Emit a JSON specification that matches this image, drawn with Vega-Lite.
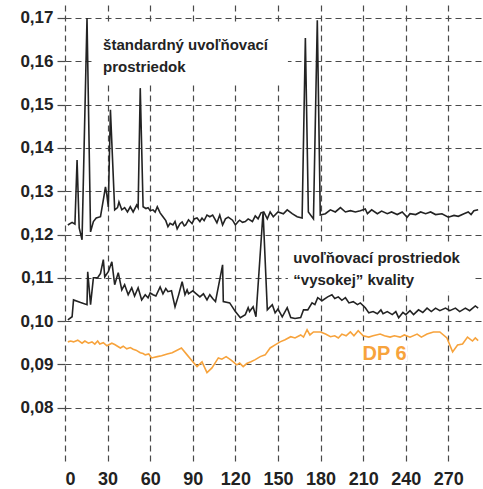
{
  "$schema": "https://vega.github.io/schema/vega-lite/v6.json",
  "autosize": {"type": "none"},
  "padding": {"left": 65, "top": 5, "right": 2, "bottom": 25},
  "width": 416,
  "height": 459,
  "background": "white",
  "config": {"view": {"stroke": null}},
  "datasets": {
    "series": [
      {"s":"std","x":2,"y":0.1222},{"s":"std","x":5,"y":0.1228},{"s":"std","x":7,"y":0.1224},{"s":"std","x":8.5,"y":0.1372},{"s":"std","x":10,"y":0.1215},{"s":"std","x":12,"y":0.1188},{"s":"std","x":15.5,"y":0.17},{"s":"std","x":18,"y":0.1206},{"s":"std","x":20,"y":0.123},{"s":"std","x":22,"y":0.1238},{"s":"std","x":25,"y":0.1241},{"s":"std","x":27.5,"y":0.129},{"s":"std","x":28.5,"y":0.131},{"s":"std","x":29.5,"y":0.1291},{"s":"std","x":30.5,"y":0.1264},{"s":"std","x":32,"y":0.1488},{"s":"std","x":35,"y":0.1257},{"s":"std","x":37,"y":0.1262},{"s":"std","x":38,"y":0.1275},{"s":"std","x":40,"y":0.1257},{"s":"std","x":42,"y":0.1262},{"s":"std","x":44,"y":0.1252},{"s":"std","x":46,"y":0.1264},{"s":"std","x":48,"y":0.1252},{"s":"std","x":50.5,"y":0.1268},{"s":"std","x":51.5,"y":0.1262},{"s":"std","x":53,"y":0.1538},{"s":"std","x":55,"y":0.1264},{"s":"std","x":57,"y":0.126},{"s":"std","x":58.5,"y":0.1262},{"s":"std","x":60,"y":0.1255},{"s":"std","x":62,"y":0.1257},{"s":"std","x":63.5,"y":0.1252},{"s":"std","x":65,"y":0.1264},{"s":"std","x":67,"y":0.125},{"s":"std","x":69,"y":0.1241},{"s":"std","x":71,"y":0.1232},{"s":"std","x":72.5,"y":0.1218},{"s":"std","x":74,"y":0.1226},{"s":"std","x":76,"y":0.1222},{"s":"std","x":77.5,"y":0.123},{"s":"std","x":79,"y":0.1213},{"s":"std","x":81,"y":0.1225},{"s":"std","x":82.5,"y":0.1229},{"s":"std","x":84,"y":0.122},{"s":"std","x":85,"y":0.1222},{"s":"std","x":87,"y":0.1234},{"s":"std","x":89.5,"y":0.1225},{"s":"std","x":91,"y":0.1236},{"s":"std","x":93,"y":0.1238},{"s":"std","x":95,"y":0.123},{"s":"std","x":96.5,"y":0.1238},{"s":"std","x":98,"y":0.1232},{"s":"std","x":100,"y":0.1245},{"s":"std","x":102,"y":0.1241},{"s":"std","x":104,"y":0.1245},{"s":"std","x":105.5,"y":0.1236},{"s":"std","x":107,"y":0.1227},{"s":"std","x":109,"y":0.1245},{"s":"std","x":111,"y":0.1222},{"s":"std","x":113,"y":0.1236},{"s":"std","x":115,"y":0.124},{"s":"std","x":118,"y":0.1233},{"s":"std","x":120,"y":0.1222},{"s":"std","x":122,"y":0.123},{"s":"std","x":123,"y":0.1233},{"s":"std","x":125,"y":0.1228},{"s":"std","x":127,"y":0.123},{"s":"std","x":129,"y":0.1236},{"s":"std","x":132,"y":0.123},{"s":"std","x":134,"y":0.1243},{"s":"std","x":136,"y":0.1236},{"s":"std","x":138,"y":0.125},{"s":"std","x":140,"y":0.1252},{"s":"std","x":142.5,"y":0.1236},{"s":"std","x":144.5,"y":0.1252},{"s":"std","x":146.7,"y":0.1241},{"s":"std","x":150,"y":0.1252},{"s":"std","x":153.8,"y":0.1248},{"s":"std","x":156.5,"y":0.1257},{"s":"std","x":160,"y":0.1248},{"s":"std","x":163.5,"y":0.1241},{"s":"std","x":167,"y":0.1238},{"s":"std","x":169.3,"y":0.1654},{"s":"std","x":171.4,"y":0.1252},{"s":"std","x":175,"y":0.1236},{"s":"std","x":177.7,"y":0.1695},{"s":"std","x":179.8,"y":0.1245},{"s":"std","x":183.4,"y":0.1248},{"s":"std","x":186.9,"y":0.1257},{"s":"std","x":190.4,"y":0.1252},{"s":"std","x":194,"y":0.1262},{"s":"std","x":197.5,"y":0.1252},{"s":"std","x":201,"y":0.1255},{"s":"std","x":204.5,"y":0.1252},{"s":"std","x":208,"y":0.1255},{"s":"std","x":211.5,"y":0.1259},{"s":"std","x":213,"y":0.1248},{"s":"std","x":216,"y":0.1257},{"s":"std","x":220,"y":0.1248},{"s":"std","x":223,"y":0.1254},{"s":"std","x":227,"y":0.1248},{"s":"std","x":230,"y":0.1252},{"s":"std","x":234,"y":0.1246},{"s":"std","x":237.5,"y":0.1252},{"s":"std","x":241,"y":0.124},{"s":"std","x":243,"y":0.1248},{"s":"std","x":247,"y":0.1246},{"s":"std","x":250.5,"y":0.1252},{"s":"std","x":254,"y":0.1248},{"s":"std","x":257.5,"y":0.1252},{"s":"std","x":261,"y":0.1246},{"s":"std","x":265.5,"y":0.1248},{"s":"std","x":270,"y":0.124},{"s":"std","x":274,"y":0.1244},{"s":"std","x":277,"y":0.1242},{"s":"std","x":281,"y":0.1248},{"s":"std","x":284,"y":0.1252},{"s":"std","x":286,"y":0.1246},{"s":"std","x":288,"y":0.1255},{"s":"std","x":291,"y":0.1257},
      {"s":"hq","x":2,"y":0.1003},{"s":"hq","x":5,"y":0.101},{"s":"hq","x":6,"y":0.1049},{"s":"hq","x":11,"y":0.1043},{"s":"hq","x":15.5,"y":0.1038},{"s":"hq","x":16,"y":0.1114},{"s":"hq","x":18,"y":0.1038},{"s":"hq","x":20,"y":0.11},{"s":"hq","x":23,"y":0.11},{"s":"hq","x":25,"y":0.111},{"s":"hq","x":27,"y":0.1142},{"s":"hq","x":28,"y":0.1102},{"s":"hq","x":30.5,"y":0.1114},{"s":"hq","x":33,"y":0.1137},{"s":"hq","x":35,"y":0.1084},{"s":"hq","x":37.5,"y":0.1112},{"s":"hq","x":40,"y":0.1072},{"s":"hq","x":42,"y":0.1084},{"s":"hq","x":44.5,"y":0.1061},{"s":"hq","x":47,"y":0.1077},{"s":"hq","x":49,"y":0.1058},{"s":"hq","x":51.5,"y":0.1077},{"s":"hq","x":54,"y":0.1049},{"s":"hq","x":56.5,"y":0.1061},{"s":"hq","x":58.5,"y":0.1054},{"s":"hq","x":60,"y":0.1065},{"s":"hq","x":62,"y":0.1061},{"s":"hq","x":64,"y":0.1058},{"s":"hq","x":67,"y":0.1079},{"s":"hq","x":69,"y":0.1063},{"s":"hq","x":71,"y":0.1075},{"s":"hq","x":72.5,"y":0.1068},{"s":"hq","x":75,"y":0.107},{"s":"hq","x":77.5,"y":0.1033},{"s":"hq","x":80,"y":0.106},{"s":"hq","x":82.5,"y":0.1091},{"s":"hq","x":84.5,"y":0.1061},{"s":"hq","x":86,"y":0.1072},{"s":"hq","x":87,"y":0.1063},{"s":"hq","x":90,"y":0.107},{"s":"hq","x":92.5,"y":0.1063},{"s":"hq","x":95,"y":0.1056},{"s":"hq","x":97.5,"y":0.1063},{"s":"hq","x":100,"y":0.1049},{"s":"hq","x":102,"y":0.1061},{"s":"hq","x":104,"y":0.1052},{"s":"hq","x":106,"y":0.1045},{"s":"hq","x":111,"y":0.113},{"s":"hq","x":111.5,"y":0.1045},{"s":"hq","x":116,"y":0.1042},{"s":"hq","x":120,"y":0.1022},{"s":"hq","x":123.5,"y":0.1008},{"s":"hq","x":127,"y":0.1015},{"s":"hq","x":129,"y":0.1031},{"s":"hq","x":130,"y":0.1022},{"s":"hq","x":132.5,"y":0.1033},{"s":"hq","x":134.5,"y":0.101},{"s":"hq","x":139.5,"y":0.1252},{"s":"hq","x":142.5,"y":0.1026},{"s":"hq","x":146,"y":0.1038},{"s":"hq","x":148,"y":0.1019},{"s":"hq","x":150,"y":0.1028},{"s":"hq","x":153,"y":0.101},{"s":"hq","x":156.5,"y":0.1031},{"s":"hq","x":159,"y":0.1008},{"s":"hq","x":162,"y":0.1006},{"s":"hq","x":166,"y":0.1008},{"s":"hq","x":168,"y":0.1026},{"s":"hq","x":171,"y":0.1026},{"s":"hq","x":174,"y":0.1042},{"s":"hq","x":176,"y":0.1038},{"s":"hq","x":178,"y":0.1054},{"s":"hq","x":181,"y":0.1047},{"s":"hq","x":185,"y":0.1056},{"s":"hq","x":188,"y":0.1061},{"s":"hq","x":190,"y":0.1052},{"s":"hq","x":192.5,"y":0.1056},{"s":"hq","x":195,"y":0.1048},{"s":"hq","x":197.5,"y":0.1054},{"s":"hq","x":200,"y":0.1042},{"s":"hq","x":203,"y":0.1045},{"s":"hq","x":206,"y":0.1038},{"s":"hq","x":208,"y":0.1042},{"s":"hq","x":211.5,"y":0.1031},{"s":"hq","x":214,"y":0.1019},{"s":"hq","x":217,"y":0.1022},{"s":"hq","x":220,"y":0.1017},{"s":"hq","x":222.5,"y":0.1026},{"s":"hq","x":224,"y":0.1017},{"s":"hq","x":227,"y":0.1022},{"s":"hq","x":230.5,"y":0.1015},{"s":"hq","x":233,"y":0.1022},{"s":"hq","x":235,"y":0.1008},{"s":"hq","x":238,"y":0.102},{"s":"hq","x":240,"y":0.1015},{"s":"hq","x":243,"y":0.1024},{"s":"hq","x":245.5,"y":0.1015},{"s":"hq","x":249,"y":0.1026},{"s":"hq","x":252,"y":0.102},{"s":"hq","x":255,"y":0.103},{"s":"hq","x":258,"y":0.1022},{"s":"hq","x":261,"y":0.103},{"s":"hq","x":264,"y":0.1024},{"s":"hq","x":268,"y":0.103},{"s":"hq","x":271,"y":0.1024},{"s":"hq","x":275,"y":0.103},{"s":"hq","x":278,"y":0.1022},{"s":"hq","x":282,"y":0.103},{"s":"hq","x":285,"y":0.1024},{"s":"hq","x":289,"y":0.1035},{"s":"hq","x":291,"y":0.103},
      {"s":"dp6","x":2,"y":0.0952},{"s":"dp6","x":4,"y":0.0954},{"s":"dp6","x":6,"y":0.0952},{"s":"dp6","x":9,"y":0.0956},{"s":"dp6","x":12,"y":0.0949},{"s":"dp6","x":14,"y":0.0954},{"s":"dp6","x":16.5,"y":0.0949},{"s":"dp6","x":19,"y":0.0952},{"s":"dp6","x":21,"y":0.0947},{"s":"dp6","x":23,"y":0.0954},{"s":"dp6","x":24.5,"y":0.0947},{"s":"dp6","x":27,"y":0.095},{"s":"dp6","x":29.5,"y":0.0943},{"s":"dp6","x":33,"y":0.0949},{"s":"dp6","x":35,"y":0.0946},{"s":"dp6","x":39,"y":0.0938},{"s":"dp6","x":41,"y":0.0942},{"s":"dp6","x":43.5,"y":0.0936},{"s":"dp6","x":46,"y":0.0939},{"s":"dp6","x":48,"y":0.0935},{"s":"dp6","x":50,"y":0.0933},{"s":"dp6","x":53,"y":0.0927},{"s":"dp6","x":55,"y":0.0925},{"s":"dp6","x":56.5,"y":0.0922},{"s":"dp6","x":59,"y":0.0924},{"s":"dp6","x":61,"y":0.0915},{"s":"dp6","x":65,"y":0.0918},{"s":"dp6","x":68,"y":0.092},{"s":"dp6","x":72,"y":0.0924},{"s":"dp6","x":75.5,"y":0.0927},{"s":"dp6","x":82,"y":0.0938},{"s":"dp6","x":86,"y":0.0922},{"s":"dp6","x":90,"y":0.0906},{"s":"dp6","x":93,"y":0.0895},{"s":"dp6","x":96.5,"y":0.0906},{"s":"dp6","x":100,"y":0.0881},{"s":"dp6","x":103.5,"y":0.0892},{"s":"dp6","x":108,"y":0.0915},{"s":"dp6","x":110.5,"y":0.0912},{"s":"dp6","x":113.5,"y":0.0918},{"s":"dp6","x":117,"y":0.091},{"s":"dp6","x":121,"y":0.0899},{"s":"dp6","x":123,"y":0.0903},{"s":"dp6","x":125.5,"y":0.0895},{"s":"dp6","x":128,"y":0.0902},{"s":"dp6","x":131,"y":0.0906},{"s":"dp6","x":134,"y":0.0911},{"s":"dp6","x":137.5,"y":0.0918},{"s":"dp6","x":141,"y":0.0922},{"s":"dp6","x":144.5,"y":0.0938},{"s":"dp6","x":148,"y":0.0945},{"s":"dp6","x":151.5,"y":0.0952},{"s":"dp6","x":155,"y":0.0957},{"s":"dp6","x":159,"y":0.0964},{"s":"dp6","x":162,"y":0.0961},{"s":"dp6","x":166,"y":0.0968},{"s":"dp6","x":168,"y":0.0963},{"s":"dp6","x":170.5,"y":0.098},{"s":"dp6","x":172.5,"y":0.0968},{"s":"dp6","x":175,"y":0.0975},{"s":"dp6","x":180,"y":0.0975},{"s":"dp6","x":183.5,"y":0.097},{"s":"dp6","x":187,"y":0.0964},{"s":"dp6","x":190,"y":0.0966},{"s":"dp6","x":192.5,"y":0.0961},{"s":"dp6","x":195,"y":0.097},{"s":"dp6","x":198,"y":0.0966},{"s":"dp6","x":201,"y":0.0975},{"s":"dp6","x":203.5,"y":0.0966},{"s":"dp6","x":206.5,"y":0.0978},{"s":"dp6","x":210,"y":0.0966},{"s":"dp6","x":214,"y":0.0963},{"s":"dp6","x":217,"y":0.0966},{"s":"dp6","x":222,"y":0.097},{"s":"dp6","x":225,"y":0.0966},{"s":"dp6","x":229,"y":0.0963},{"s":"dp6","x":232,"y":0.0966},{"s":"dp6","x":236,"y":0.0963},{"s":"dp6","x":239,"y":0.0968},{"s":"dp6","x":243,"y":0.0963},{"s":"dp6","x":248,"y":0.097},{"s":"dp6","x":251,"y":0.0963},{"s":"dp6","x":255,"y":0.097},{"s":"dp6","x":259.5,"y":0.0975},{"s":"dp6","x":264,"y":0.0975},{"s":"dp6","x":269,"y":0.0961},{"s":"dp6","x":273,"y":0.0929},{"s":"dp6","x":276.5,"y":0.0945},{"s":"dp6","x":280,"y":0.0947},{"s":"dp6","x":283.5,"y":0.0963},{"s":"dp6","x":287,"y":0.0954},{"s":"dp6","x":289,"y":0.0961},{"s":"dp6","x":291,"y":0.0955}
    ],
    "boxes": [
      {"x":19,"x2":157,"y":0.1684,"y2":0.1552},
      {"x":157,"x2":287,"y":0.1181,"y2":0.1068},
      {"x":206.6,"x2":241,"y":0.0955,"y2":0.0906}
    ],
    "labels": [
      {"s":"std","x":26.8,"y":0.1627,"label":"štandardný uvoľňovací\nprostriedok"},
      {"s":"hq","x":160.8,"y":0.1135,"label":"uvoľňovací prostriedok\n“vysokej” kvality"},
      {"s":"dp6","x":209.5,"y":0.0911,"label":"DP 6"}
    ]
  },
  "layer": [
    {
      "data": {"name": "boxes"},
      "mark": {"type": "rect", "fill": "white", "stroke": null},
      "encoding": {
        "x": {"field": "x", "type": "quantitative",
          "scale": {"domain": [0, 293], "nice": false, "zero": false},
          "axis": {
            "values": [0,30,60,90,120,150,180,210,240,270],
            "title": null, "domain": false, "ticks": false,
            "labelPadding": 6, "labelFont": "Liberation Sans", "labelFontWeight": "bold",
            "labelFontSize": 18, "labelColor": "#222",
            "grid": true, "gridColor": "#4a4a4a", "gridDash": [6, 4], "gridWidth": 1.2, "gridOpacity": 1
          }},
        "x2": {"field": "x2"},
        "y": {"field": "y", "type": "quantitative",
          "scale": {"domain": [0.067, 0.173], "nice": false, "zero": false},
          "axis": {
            "values": [0.08,0.09,0.10,0.11,0.12,0.13,0.14,0.15,0.16,0.17],
            "labelExpr": "replace(format(datum.value, '.2f'), '.', ',')",
            "title": null, "domain": false, "ticks": true, "tickSize": 8,
            "tickColor": "#4a4a4a", "tickWidth": 1.2,
            "labelPadding": 4, "labelFont": "Liberation Sans", "labelFontWeight": "bold",
            "labelFontSize": 17, "labelColor": "#222",
            "grid": true, "gridColor": "#4a4a4a", "gridDash": [6, 4], "gridWidth": 1.2, "gridOpacity": 1
          }},
        "y2": {"field": "y2"}
      }
    },
    {
      "data": {"name": "series"},
      "mark": {"type": "line", "strokeWidth": 1.6, "interpolate": "linear"},
      "encoding": {
        "x": {"field": "x", "type": "quantitative"},
        "y": {"field": "y", "type": "quantitative"},
        "detail": {"field": "s"},
        "color": {"field": "s", "type": "nominal",
          "scale": {"domain": ["std","hq","dp6"], "range": ["#232323","#232323","#F7A33C"]},
          "legend": null}
      }
    },
    {
      "data": {"name": "labels"},
      "transform": [{"filter": "datum.s !== 'dp6'"}],
      "mark": {"type": "text", "align": "left", "baseline": "alphabetic", "lineBreak": "\n",
        "lineHeight": 22, "font": "Liberation Sans", "fontWeight": "bold", "fontSize": 15},
      "encoding": {
        "x": {"field": "x", "type": "quantitative"},
        "y": {"field": "y", "type": "quantitative"},
        "text": {"field": "label"},
        "color": {"field": "s", "type": "nominal", "legend": null}
      }
    },
    {
      "data": {"name": "labels"},
      "transform": [{"filter": "datum.s === 'dp6'"}],
      "mark": {"type": "text", "align": "left", "baseline": "alphabetic",
        "font": "Liberation Sans", "fontWeight": "bold", "fontSize": 20},
      "encoding": {
        "x": {"field": "x", "type": "quantitative"},
        "y": {"field": "y", "type": "quantitative"},
        "text": {"field": "label"},
        "color": {"field": "s", "type": "nominal", "legend": null}
      }
    }
  ]
}
